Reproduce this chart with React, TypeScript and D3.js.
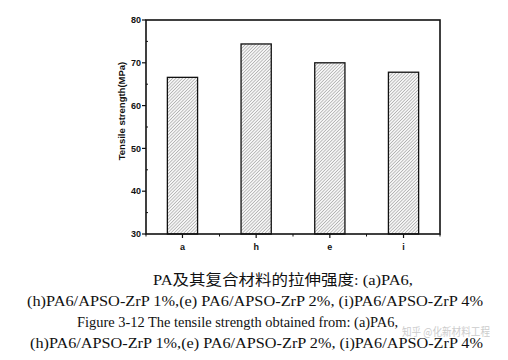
import React from "react";
import * as d3 from "d3";

const categories = ["a", "h", "e", "i"];
const values = [66.6, 74.4, 70.0, 67.8];
const yTicks = [30, 40, 50, 60, 70, 80];
const yMinorTicks = [35, 45, 55, 65, 75];
const yLabel = "Tensile strength(MPa)";
const captionLines = [
  "PA及其复合材料的拉伸强度: (a)PA6,",
  "(h)PA6/APSO-ZrP 1%,(e) PA6/APSO-ZrP 2%, (i)PA6/APSO-ZrP 4%",
  "Figure 3-12 The tensile strength obtained from: (a)PA6,",
  "(h)PA6/APSO-ZrP 1%,(e) PA6/APSO-ZrP 2%, (i)PA6/APSO-ZrP 4%",
];
const watermark = "知乎 @化新材料工程";

export default function App() {
  const W = 508, H = 360;
  const left = 146, right = 440, top = 20, bottom = 234;
  const x = d3.scaleBand<string>().domain(categories).range([left, right]).paddingInner(0.59).paddingOuter(0.29);
  const y = d3.scaleLinear().domain([30, 80]).range([bottom, top]);
  const bandStep = (right - left) / categories.length;
  const boundaries = d3.range(categories.length + 1).map((i) => left + i * bandStep);
  const font = "Arial, 'Liberation Sans', sans-serif";
  const serif = "'Times New Roman', 'Liberation Serif', 'Noto Sans CJK SC', serif";
  const captionX = [153, 27, 77, 30];
  const captionY = [285, 306, 327, 348];
  const captionW = [260, 456, 321, 453];
  return (
    <svg width={W} height={H} style={{ position: "absolute", left: 0, top: 0, background: "#fff" }}>
      <defs>
        <pattern id="hatch" patternUnits="userSpaceOnUse" width="2.3" height="2.3" patternTransform="rotate(45)">
          <rect width="2.3" height="2.3" fill="#f6f6f6" />
          <line x1="0" y1="0" x2="0" y2="2.3" stroke="#444" strokeWidth="0.6" />
        </pattern>
      </defs>
      <rect width={W} height={H} fill="#fff" />
      {categories.map((c, i) => (
        <rect key={c} x={x(c)} y={y(values[i])} width={x.bandwidth()} height={y(30) - y(values[i])}
          fill="url(#hatch)" stroke="#111" strokeWidth={1.3} />
      ))}
      {/* frame */}
      <rect x={left} y={top} width={right - left} height={bottom - top} fill="none" stroke="#111" strokeWidth={1.6} />
      {/* y ticks */}
      {yTicks.map((t) => (
        <g key={t}>
          <line x1={left - 4} x2={left} y1={y(t)} y2={y(t)} stroke="#111" strokeWidth={1.2} />
          <text x={left - 5} y={y(t)} dy="0.35em" textAnchor="end" fontFamily={font} fontWeight="bold" fontSize={9} fill="#111">{t}</text>
        </g>
      ))}
      {yMinorTicks.map((t) => (
        <line key={t} x1={left} x2={left + 2} y1={y(t)} y2={y(t)} stroke="#111" strokeWidth={1} />
      ))}
      {/* x ticks */}
      {categories.map((c) => {
        const cx = (x(c) as number) + x.bandwidth() / 2;
        return (
          <g key={c}>
            <line x1={cx} x2={cx} y1={bottom} y2={bottom + 4} stroke="#111" strokeWidth={1.2} />
            <text x={cx} y={bottom + 16} textAnchor="middle" fontFamily={font} fontWeight="bold" fontSize={9} fill="#111">{c}</text>
          </g>
        );
      })}
      {boundaries.map((bx, i) => (
        <line key={i} x1={bx} x2={bx} y1={bottom} y2={bottom + 2.5} stroke="#111" strokeWidth={1} />
      ))}
      <text transform={`translate(125,${(top + bottom) / 2 - 16}) rotate(-90)`} textAnchor="middle" fontFamily={font}
        fontWeight="bold" fontSize={9.5} fill="#111">{yLabel}</text>
      {captionLines.map((l, i) => (
        <text key={i} x={captionX[i]} y={captionY[i]} fontFamily={serif} fontSize={15} fill="#111"
          textLength={captionW[i]} lengthAdjust="spacingAndGlyphs">{l}</text>
      ))}
      <text x={402} y={336} fontFamily="'Noto Sans CJK SC', sans-serif" fontSize={11} fill="#bbb" opacity={0.75}
        textLength={88} lengthAdjust="spacingAndGlyphs">{watermark}</text>
    </svg>
  );
}
